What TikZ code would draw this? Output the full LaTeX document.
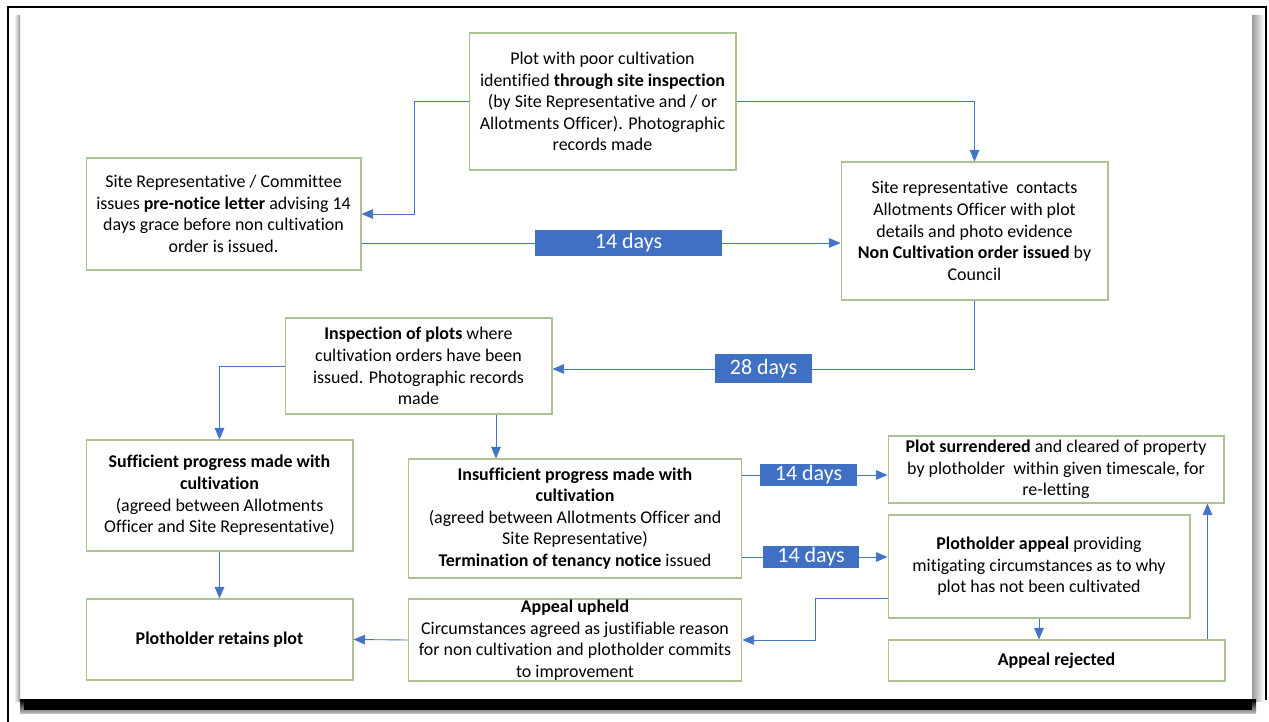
\documentclass[tikz,border=0pt]{standalone}
\usepackage{fontspec}
\setmainfont{Carlito}[Ligatures={NoCommon,NoContextual}]
\usetikzlibrary{shapes,arrows}

\definecolor{boxgreen}{RGB}{170,195,145}
\definecolor{arrblue}{RGB}{68,114,196}
\definecolor{labblue}{RGB}{63,112,196}

\begin{document}
\begin{tikzpicture}[x=0.02cm, y=-0.02cm, >=triangle 45,
  box/.style={draw=boxgreen, line width=0.6pt, fill=white, align=center, inner sep=0pt,
              font=\fontsize{10.2}{12.3}\selectfont},
  lab/.style={fill=labblue, text=white, inner sep=0pt, font=\fontsize{12.5}{14}\selectfont},
  arr/.style={draw=arrblue, line width=0.5pt, ->}]
%%%
\useasboundingbox (0,0) rectangle (1269,722);

% page frame and shadow
\shade[left color=white, right color=gray!80] (14,16) rectangle (20,702);
\shade[left color=gray!80, right color=white] (1252,16) rectangle (1264,702);
\shade[top color=black, bottom color=gray!40] (20,700) rectangle (1256,714);
\fill[black] (24,701) rectangle (1252,710);
\draw[line width=1.6pt] (8,722) -- (8,7) -- (1266,7) -- (1266,700);

% boxes
\node[box, minimum width=5.34cm, minimum height=2.74cm] (poor) at (602.5,101.5)
  {Plot with poor cultivation\\ identified \textbf{through site inspection}\\ (by Site Representative and / or\\ Allotments Officer). Photographic\\ records made};
\node[box, minimum width=5.5cm, minimum height=2.24cm] (pre) at (223.5,214)
  {Site Representative / Committee\\ issues \textbf{pre-notice letter} advising 14\\ days grace before non cultivation\\ order is issued.};
\node[box, minimum width=5.34cm, minimum height=2.76cm] (order) at (974.5,231)
  {Site representative~~contacts\\ Allotments Officer with plot\\ details and photo evidence\\ \textbf{Non Cultivation order issued} by\\ Council};
\node[box, minimum width=5.34cm, minimum height=1.92cm] (insp) at (418.5,366)
  {\textbf{Inspection of plots} where\\ cultivation orders have been\\ issued. Photographic records\\ made};
\node[box, minimum width=5.34cm, minimum height=2.22cm] (suff) at (219.5,495.5)
  {\textbf{Sufficient progress made with}\\ \textbf{cultivation}\\ (agreed between Allotments\\ Officer and Site Representative)};
\node[box, minimum width=5.34cm, minimum height=1.62cm] (keep) at (219.5,639.5)
  {\textbf{Plotholder retains plot}};
\node[box, minimum width=6.68cm, minimum height=2.38cm] (insuff) at (575,518.5)
  {\textbf{Insufficient progress made with}\\ \textbf{cultivation}\\ (agreed between Allotments Officer and\\ Site Representative)\\ \textbf{Termination of tenancy notice} issued};
\node[box, minimum width=6.68cm, minimum height=1.64cm] (upheld) at (575,640)
  {\textbf{Appeal upheld}\\ Circumstances agreed as justifiable reason\\ for non cultivation and plotholder commits\\ to improvement};
\node[box, minimum width=6.72cm, minimum height=1.34cm] (surr) at (1056,469.5)
  {\textbf{Plot surrendered} and cleared of property\\ by plotholder~~within given timescale, for\\ re-letting};
\node[box, minimum width=6.04cm, minimum height=2.06cm] (appeal) at (1039,566.5)
  {\textbf{Plotholder appeal} providing\\ mitigating circumstances as to why\\ plot has not been cultivated};
\node[box, minimum width=6.74cm, minimum height=0.82cm] (reject) at (1056.5,660.5)
  {\textbf{Appeal rejected}};

% day labels
\node[lab, minimum width=3.74cm, minimum height=0.52cm] (d14a) at (628.5,243) {14 days};
\node[lab, minimum width=1.94cm, minimum height=0.58cm] (d28) at (763.5,369) {28 days};
\node[lab, minimum width=1.94cm, minimum height=0.44cm] (d14b) at (808.5,475) {14 days};
\node[lab, minimum width=1.92cm, minimum height=0.44cm] (d14c) at (811,557) {14 days};

% arrows
\draw[arr] (poor.west) -- ++(-54,0) |- (pre.east);
\draw[arr] (poor.east) -| (order.north);
\draw[arr] (pre.east |- d14a) -- (d14a) -- (order.west |- d14a);
\draw[arr] (order.south) |- (d28) -- (insp.east |- d28);
\draw[arr] (insp.west) -| (suff.north);
\draw[arr] ([xshift=1.55cm]insp.south) -- ([xshift=1.55cm]insp.south |- insuff.north);
\draw[arr] (suff.south) -- (keep.north);
\draw[arr] (upheld.west) -- (keep.east);
\draw[arr] (insuff.east |- d14b) -- (d14b) -- (surr.west |- d14b);
\draw[arr] (insuff.east |- d14c) -- (d14c) -- (appeal.west |- d14c);
\draw[arr] (appeal.south west) ++(0,-20) -- ++(-72,0) |- (upheld.east);
\draw[arr] (appeal.south) -- (appeal.south |- reject.north);
\draw[arr] ([xshift=-0.36cm]reject.north east) -- ([xshift=-0.36cm]reject.north east |- surr.south);

% labels on top of lines
\node[lab, minimum width=3.74cm, minimum height=0.52cm] at (d14a) {14 days};
\node[lab, minimum width=1.94cm, minimum height=0.58cm] at (d28) {28 days};
\node[lab, minimum width=1.94cm, minimum height=0.44cm] at (d14b) {14 days};
\node[lab, minimum width=1.92cm, minimum height=0.44cm] at (d14c) {14 days};
%%%
\end{tikzpicture}
\end{document}
